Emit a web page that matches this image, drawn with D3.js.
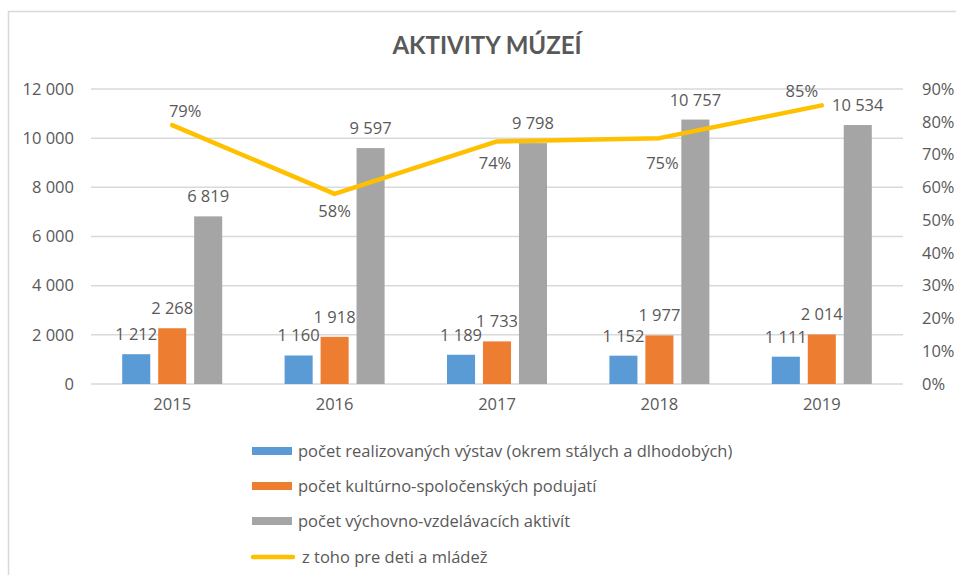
<!DOCTYPE html>
<html>
<head>
<meta charset="utf-8">
<script src="https://cdn.jsdelivr.net/npm/d3@7"></script>
<style>
  body { margin: 0; background: #fff; }
  text { font-family: "Open Sans", "Noto Sans", sans-serif; fill: #595959; }
</style>
</head>
<body>
<svg id="graf"></svg>
<script>
// data
const roky = ['2015', '2016', '2017', '2018', '2019'];
const nazvySerii = [
  'počet realizovaných výstav (okrem stálych a dlhodobých)',
  'počet kultúrno-spoločenských podujatí',
  'počet výchovno-vzdelávacích aktivít'
];
const vystavy = [1212, 1160, 1189, 1152, 1111];
const podujatia = [2268, 1918, 1733, 1977, 2014];
const aktivity = [6819, 9597, 9798, 10757, 10534];
const nazovCiary = 'z toho pre deti a mládež';
const detiPodiel = [0.79, 0.58, 0.74, 0.75, 0.85];
const tickyVlavo = [0, 2000, 4000, 6000, 8000, 10000, 12000];
const tickyVpravo = [0, 0.1, 0.2, 0.3, 0.4, 0.5, 0.6, 0.7, 0.8, 0.9];

// label placement of the percentage labels (dx, dy from point)
const posunPercent = [[13, -8], [0, 23], [-2, 28], [3, 31], [-20, -8]];

const farby = ['#5B9BD5', '#ED7D31', '#A5A5A5'];
const farbaCiary = '#FFC000';
const velkost = '16.5px';

const sirka = 956, vyska = 575;
const svg = d3.select('#graf').attr('width', sirka).attr('height', vyska);

// chart border
svg.append('rect')
  .attr('x', 8.5).attr('y', 11.5)
  .attr('width', 970).attr('height', 600)
  .attr('fill', 'none').attr('stroke', '#D9D9D9').attr('stroke-width', 1.5);

svg.append('text')
  .attr('x', 487).attr('y', 54)
  .attr('text-anchor', 'middle')
  .style('font-family', 'Lato, "Open Sans", sans-serif')
  .style('font-size', '24px').style('font-weight', 'bold')
  .text('AKTIVITY MÚZEÍ');

const lavo = 91, pravo = 903, hore = 89, dole = 384;

const loc = d3.formatLocale({ decimal: ',', thousands: ' ', grouping: [3], currency: ['', ''] });
const fmt = loc.format(',d');

const fnX = d3.scaleBand().domain(roky).range([lavo, pravo]).padding(0);
const fnY = d3.scaleLinear().domain([0, 12000]).range([dole, hore]);
const fnY2 = d3.scaleLinear().domain([0, 0.9]).range([dole, hore]);

// gridlines
svg.append('g')
  .selectAll('line')
  .data(tickyVlavo)
  .enter()
  .append('line')
  .attr('x1', lavo).attr('x2', pravo)
  .attr('y1', d => fnY(d)).attr('y2', d => fnY(d))
  .attr('stroke', '#D9D9D9').attr('stroke-width', 1.5);

// axes
let eixoY = d3.axisLeft(fnY).tickValues(tickyVlavo).tickFormat(fmt).tickSize(0).tickPadding(0);
let gY = svg.append('g').attr('transform', 'translate(74,0)').call(eixoY);
let eixoY2 = d3.axisRight(fnY2).tickValues(tickyVpravo).tickFormat(d3.format('.0%')).tickSize(0).tickPadding(0);
let gY2 = svg.append('g').attr('transform', 'translate(922,0)').call(eixoY2);
let eixoX = d3.axisBottom(fnX).tickSize(0).tickPadding(0);
let gX = svg.append('g').attr('transform', 'translate(0,' + 398 + ')').call(eixoX);

[gY, gY2, gX].forEach(g => {
  g.select('.domain').remove();
  g.selectAll('text').style('font-size', velkost).attr('fill', '#595959')
    .style('font-family', '"Open Sans", "Noto Sans", sans-serif');
});

// bars
const serie = [vystavy, podujatia, aktivity];
const fnS = d3.scaleBand().domain([0, 1, 2]).range([-50, 50]).paddingInner(0.22);

serie.forEach((hodnoty, s) => {
  svg.append('g')
    .selectAll('rect')
    .data(hodnoty)
    .enter()
    .append('rect')
    .attr('x', (d, i) => fnX(roky[i]) + fnX.bandwidth() / 2 + fnS(s))
    .attr('y', d => fnY(d))
    .attr('width', fnS.bandwidth())
    .attr('height', d => dole - fnY(d))
    .attr('fill', farby[s]);
});

serie.forEach((hodnoty, s) => {
  svg.append('g')
    .selectAll('text')
    .data(hodnoty)
    .enter()
    .append('text')
    .attr('x', (d, i) => fnX(roky[i]) + fnX.bandwidth() / 2 + fnS(s) + fnS.bandwidth() / 2)
    .attr('y', d => fnY(d) - 14)
    .attr('text-anchor', 'middle')
    .style('font-size', velkost)
    .text(d => fmt(d));
});

// line
const ciara = d3.line()
  .x((d, i) => fnX(roky[i]) + fnX.bandwidth() / 2)
  .y(d => fnY2(d));

svg.append('path')
  .datum(detiPodiel)
  .attr('d', ciara)
  .attr('fill', 'none')
  .attr('stroke', farbaCiary)
  .attr('stroke-width', 4.5)
  .attr('stroke-linejoin', 'round')
  .attr('stroke-linecap', 'round');

svg.append('g')
  .selectAll('text')
  .data(detiPodiel)
  .enter()
  .append('text')
  .attr('x', (d, i) => fnX(roky[i]) + fnX.bandwidth() / 2 + posunPercent[i][0])
  .attr('y', (d, i) => fnY2(d) + posunPercent[i][1])
  .attr('text-anchor', 'middle')
  .style('font-size', velkost)
  .text(d => d3.format('.0%')(d));

// legend
const legenda = svg.append('g').attr('transform', 'translate(252,0)');
const legY = [451, 486, 521, 557];
nazvySerii.forEach((n, i) => {
  legenda.append('rect')
    .attr('x', 0).attr('y', legY[i] - 4)
    .attr('width', 40).attr('height', 8)
    .attr('fill', farby[i]);
  legenda.append('text')
    .attr('x', 46).attr('y', legY[i])
    .attr('dy', '0.35em')
    .style('font-size', velkost)
    .text(n);
});
legenda.append('line')
  .attr('x1', 1).attr('x2', 41)
  .attr('y1', legY[3]).attr('y2', legY[3])
  .attr('stroke', farbaCiary).attr('stroke-width', 4.5)
  .attr('stroke-linecap', 'round');
legenda.append('text')
  .attr('x', 50).attr('y', legY[3])
  .attr('dy', '0.35em')
  .style('font-size', velkost)
  .text(nazovCiary);
</script>
</body>
</html>
